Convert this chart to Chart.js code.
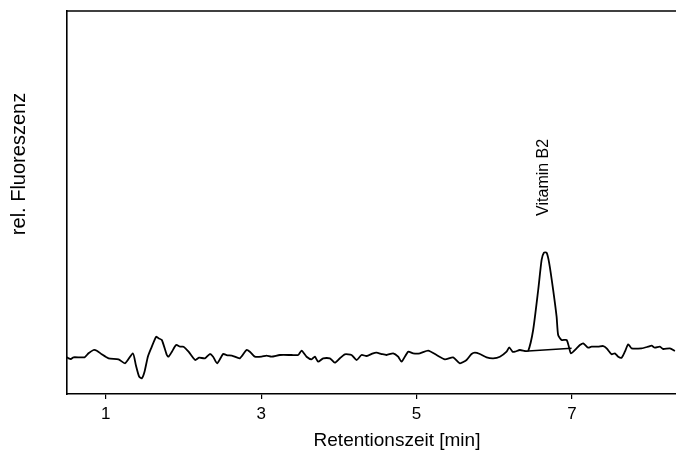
<!DOCTYPE html>
<html>
<head>
<meta charset="utf-8">
<script src="https://cdn.jsdelivr.net/npm/chart.js@4"></script>
<style>
  html, body { margin: 0; padding: 0; background: #fff; }
  #wrap { width: 676px; height: 457px; }
</style>
</head>
<body>
<div id="wrap"><canvas id="chart"></canvas></div>
<script>
// Retention time [min] of the chromatogram trace
const timeMin = [0.485, 0.52, 0.549, 0.584, 0.726, 0.777, 0.842, 0.884, 0.948, 1.035, 1.163, 1.248, 1.348, 1.386, 1.429, 1.463, 1.498, 1.541, 1.583, 1.648, 1.678, 1.721, 1.785, 1.807, 1.85, 1.905, 1.957, 2.0, 2.065, 2.15, 2.201,
  2.275, 2.339, 2.381, 2.433, 2.51, 2.554, 2.639, 2.725, 2.811, 2.854, 2.918, 3.005, 3.069, 3.133, 3.24, 3.391, 3.476, 3.52, 3.584, 3.648, 3.691, 3.733, 3.798, 3.884, 3.948, 4.013,
  4.077, 4.163, 4.228, 4.292, 4.357, 4.441, 4.485, 4.55, 4.614, 4.699, 4.763, 4.807, 4.892, 4.956, 5.043, 5.15, 5.258, 5.365, 5.471, 5.558, 5.644, 5.708, 5.751, 5.815,
  5.902, 5.987, 6.073, 6.159, 6.193, 6.236, 6.266, 6.33, 6.395, 6.437, 6.501, 6.566, 6.61, 6.639, 6.674, 6.708, 6.759, 6.803, 6.823, 6.867, 6.932, 6.961, 6.987,
  7.06, 7.103, 7.145, 7.21, 7.253, 7.338, 7.403, 7.447, 7.511, 7.553, 7.596, 7.64, 7.682, 7.725, 7.768, 7.897, 7.982, 8.026, 8.068, 8.133, 8.175, 8.261, 8.326];
// relative fluorescence (arbitrary units)
const fluorescence = [9.66, 9.32, 9.14, 9.58, 9.58, 10.63, 11.49, 11.31, 10.37, 9.32, 9.06, 8.02, 10.63, 7.57, 4.52, 4.1, 5.82, 9.74, 11.93, 14.96, 14.54, 14.1, 10.18, 9.74, 11.04, 12.79, 12.35, 12.35, 11.04, 8.88, 9.48,
  9.32, 10.44, 9.74, 8.02, 10.44, 10.18, 9.92, 9.32, 11.49, 11.04, 9.74, 9.74, 10.0, 9.74, 10.18, 10.18, 10.18, 11.31, 9.74, 9.06, 9.74, 8.43, 9.32, 9.32, 8.17, 9.32,
  10.37, 10.18, 8.88, 10.18, 9.92, 10.63, 10.78, 10.44, 10.18, 10.63, 9.74, 8.43, 11.04, 10.63, 10.63, 11.31, 10.18, 9.06, 9.58, 8.02, 8.88, 10.44, 10.78, 10.44,
  9.58, 9.32, 9.74, 11.04, 12.19, 11.04, 11.04, 11.49, 11.23, 11.23, 16.71, 27.15, 34.99, 36.89, 36.89, 34.13, 27.15, 20.18, 15.4, 14.1, 14.1, 12.35, 10.63,
  11.93, 12.79, 13.24, 12.09, 12.35, 12.35, 12.53, 11.93, 10.37, 10.63, 9.74, 9.48, 11.04, 12.98, 11.93, 11.93, 12.35, 12.61, 12.09, 12.35, 11.75, 11.93, 11.23];

// integration baseline under the peak
const baseTime = [6.437, 6.996];
const baseValue = [11.23, 11.93];

const xTicks = [1, 3, 5, 7];
const xTitle = 'Retentionszeit [min]';
const yTitle = 'rel. Fluoreszenz';
const peakLabel = 'Vitamin B2';
const peakLabelAt = [6.63, 46.5];

const fontFamily = '"Liberation Sans", Arial, sans-serif';

const frameAndLabels = {
  id: 'frameAndLabels',
  afterDraw(chart) {
    const { ctx, chartArea, scales } = chart;
    ctx.save();
    ctx.strokeStyle = '#000';
    ctx.lineWidth = 1.6;
    ctx.beginPath();
    ctx.moveTo(chartArea.left, chartArea.top);
    ctx.lineTo(chartArea.right, chartArea.top);
    ctx.stroke();

    ctx.fillStyle = '#000';
    ctx.textBaseline = 'middle';

    // x title, a little right of the plot centre as in the original
    ctx.font = '19px ' + fontFamily;
    ctx.textAlign = 'center';
    ctx.fillText(xTitle, 397, 441);

    // y title
    ctx.save();
    ctx.font = '20px ' + fontFamily;
    ctx.translate(19, 164);
    ctx.rotate(-Math.PI / 2);
    ctx.fillText(yTitle, 0, 0);
    ctx.restore();

    // peak label
    const px = scales.x.getPixelForValue(peakLabelAt[0]);
    const py = scales.y.getPixelForValue(peakLabelAt[1]);
    ctx.translate(px, py);
    ctx.rotate(-Math.PI / 2);
    ctx.font = '16px ' + fontFamily;
    ctx.textAlign = 'left';
    ctx.fillText(peakLabel, 0, 0);
    ctx.restore();
  }
};

new Chart(document.getElementById('chart'), {
  type: 'line',
  data: {
    datasets: [
      {
        data: timeMin.map((t, i) => ({ x: t, y: fluorescence[i] })),
        borderColor: '#000',
        borderWidth: 1.8,
        pointRadius: 0,
        tension: 0.2,
        fill: false
      },
      {
        data: baseTime.map((t, i) => ({ x: t, y: baseValue[i] })),
        borderColor: '#000',
        borderWidth: 1.4,
        pointRadius: 0,
        fill: false
      }
    ]
  },
  options: {
    responsive: true,
    maintainAspectRatio: false,
    animation: false,
    layout: { padding: { top: 11, right: 0, left: 0, bottom: 0 } },
    plugins: { legend: { display: false }, tooltip: { enabled: false } },
    scales: {
      x: {
        type: 'linear',
        min: 0.5,
        max: 8.34,
        afterBuildTicks: (axis) => { axis.ticks = xTicks.map(v => ({ value: v })); },
        afterFit: (axis) => { axis.height = 63; },
        grid: { display: true, drawOnChartArea: false, drawTicks: true, tickLength: 5, color: '#000', lineWidth: 1.2 },
        border: { display: true, color: '#000', width: 1.6 },
        ticks: { color: '#000', font: { family: fontFamily, size: 17 }, padding: 5, maxRotation: 0 }
      },
      y: {
        min: 0,
        max: 100,
        afterFit: (axis) => { axis.width = 67; },
        grid: { display: false },
        border: { display: true, color: '#000', width: 1.6 },
        ticks: { display: false }
      }
    }
  },
  plugins: [frameAndLabels]
});
</script>
</body>
</html>
